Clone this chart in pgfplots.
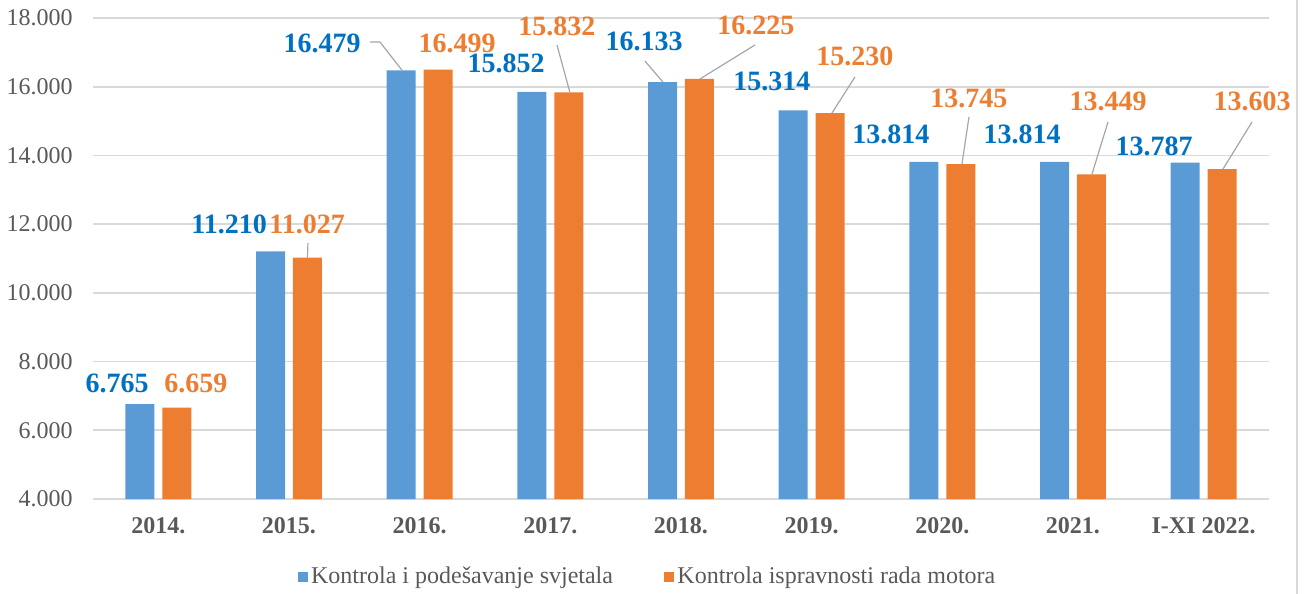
\documentclass[border=0pt]{standalone}
\usepackage{pgfplots}
\pgfplotsset{compat=1.18}
\usepackage{fontspec}
\setmainfont{Liberation Serif}
\definecolor{barblue}{HTML}{5B9BD5}
\definecolor{barorange}{HTML}{ED7D31}
\definecolor{lblblue}{HTML}{0070C0}
\definecolor{lblorange}{HTML}{ED7D31}
\definecolor{txtgray}{HTML}{595959}
\definecolor{gridgray}{HTML}{D9D9D9}
\definecolor{leadgray}{HTML}{A6A6A6}
\begin{document}
\begin{tikzpicture}
\useasboundingbox (0,0) rectangle (653pt,297pt);
\begin{axis}[
  at={(46.5pt,47.5pt)}, anchor=south west,
  scale only axis, width=588pt, height=240.5pt,
  xmin=-0.5, xmax=8.5, ymin=4000, ymax=18000,
  scaled y ticks=false,
  axis line style={draw=none},
  major tick length=0pt,
  ymajorgrids, grid style={gridgray, line width=0.8pt},
  xtick={0,...,8},
  xticklabels={2014.,2015.,2016.,2017.,2018.,2019.,2020.,2021.,I-XI 2022.},
  ytick={4000,6000,8000,10000,12000,14000,16000,18000},
  yticklabels={4.000,6.000,8.000,10.000,12.000,14.000,16.000,18.000},
  xticklabel style={anchor=center, yshift=-13.5pt, font=\bfseries\fontsize{12}{14}\selectfont, text=txtgray},
  yticklabel style={anchor=east, inner sep=0pt, xshift=-10pt, font=\fontsize{12}{14}\selectfont, text=txtgray},
  legend style={at={(0.472,-0.162)}, anchor=center, draw=none, fill=none,
    font=\fontsize{12}{14}\selectfont, text=txtgray,
    nodes={inner sep=1.5pt},
    /tikz/every even column/.append style={column sep=24pt}},
  legend columns=2, legend cell align=left,
  clip=false,
]
\addplot[ybar, bar width=0.222, bar shift=-0.1415, fill=barblue, draw=none,
  legend image code/.code={\fill[barblue] (0pt,-2.6pt) rectangle (5.2pt,2.6pt);}]
  coordinates {(0,6765) (1,11210) (2,16479) (3,15852) (4,16133) (5,15314) (6,13814) (7,13814) (8,13787)};
\addlegendentry{Kontrola i podešavanje svjetala}
\addplot[ybar, bar width=0.222, bar shift=0.1415, fill=barorange, draw=none,
  legend image code/.code={\fill[barorange] (0pt,-2.6pt) rectangle (5.2pt,2.6pt);}]
  coordinates {(0,6659) (1,11027) (2,16499) (3,15832) (4,16225) (5,15230) (6,13745) (7,13449) (8,13603)};
\addlegendentry{Kontrola ispravnosti rada motora}
% leader lines
\draw[leadgray, line width=0.6pt] (axis cs:1.145,11453) -- (axis cs:1.1415,11027);
\draw[leadgray, line width=0.6pt] (axis cs:1.620,17302) -- (axis cs:1.696,17302) -- (axis cs:1.865,16479);
\draw[leadgray, line width=0.6pt] (axis cs:3.051,17214) -- (axis cs:3.150,15832);
\draw[leadgray, line width=0.6pt] (axis cs:3.724,16749) -- (axis cs:3.862,16133);
\draw[leadgray, line width=0.6pt] (axis cs:4.566,17214) -- (axis cs:4.145,16225);
\draw[leadgray, line width=0.6pt] (axis cs:5.331,16283) -- (axis cs:5.155,15230);
\draw[leadgray, line width=0.6pt] (axis cs:6.204,15119) -- (axis cs:6.150,13745);
\draw[leadgray, line width=0.6pt] (axis cs:7.268,14974) -- (axis cs:7.145,13449);
\draw[leadgray, line width=0.6pt] (axis cs:8.370,14974) -- (axis cs:8.148,13603);
% data labels
\tikzset{vl/.style={font=\bfseries\fontsize{14}{16}\selectfont, inner sep=0pt, anchor=center}}
\node[vl, text=lblblue] at (axis cs:-0.316,7378) {6.765};
\node[vl, text=lblorange] at (axis cs:0.288,7378) {6.659};
\node[vl, text=lblblue] at (axis cs:0.541,12005) {11.210};
\node[vl, text=lblorange] at (axis cs:1.138,12005) {11.027};
\node[vl, text=lblblue] at (axis cs:1.253,17273) {16.479};
\node[vl, text=lblorange] at (axis cs:2.286,17273) {16.499};
\node[vl, text=lblblue] at (axis cs:2.661,16690) {15.852};
\node[vl, text=lblorange] at (axis cs:3.051,17767) {15.832};
\node[vl, text=lblblue] at (axis cs:3.717,17331) {16.133};
\node[vl, text=lblorange] at (axis cs:4.574,17796) {16.225};
\node[vl, text=lblblue] at (axis cs:4.696,16167) {15.314};
\node[vl, text=lblorange] at (axis cs:5.331,16894) {15.230};
\node[vl, text=lblblue] at (axis cs:5.607,14624) {13.814};
\node[vl, text=lblorange] at (axis cs:6.204,15672) {13.745};
\node[vl, text=lblblue] at (axis cs:6.610,14624) {13.814};
\node[vl, text=lblorange] at (axis cs:7.268,15585) {13.449};
\node[vl, text=lblblue] at (axis cs:7.620,14275) {13.787};
\node[vl, text=lblorange] at (axis cs:8.370,15585) {13.603};
\end{axis}
\draw[gridgray, line width=0.8pt] (648.5pt,0pt) -- (648.5pt,297pt);
\end{tikzpicture}
\end{document}
